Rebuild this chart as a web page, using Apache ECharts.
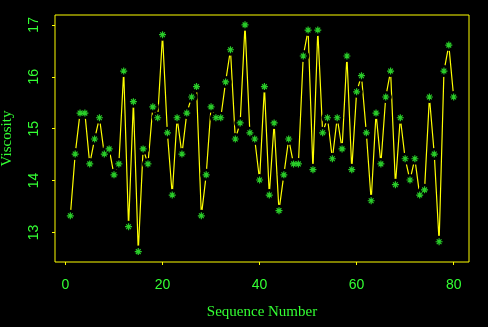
<!DOCTYPE html>
<html>
<head>
<meta charset="utf-8">
<script src="https://cdn.jsdelivr.net/npm/echarts@6/dist/echarts.min.js"></script>
<style>
html,body{margin:0;padding:0;background:#000;}
#chart{width:488px;height:327px;}
</style>
</head>
<body>
<div id="chart"></div>
<script>
var sequence = [];
for (var k = 1; k <= 80; k++) sequence.push(k);
var viscosity = [
  13.32, 14.51, 15.30, 15.30, 14.32, 14.80, 15.21, 14.51, 14.61, 14.11,
  14.32, 16.11, 13.11, 15.52, 12.63, 14.61, 14.32, 15.42, 15.21, 16.81,
  14.92, 13.72, 15.21, 14.51, 15.30, 15.61, 15.81, 13.32, 14.11, 15.42,
  15.21, 15.21, 15.90, 16.52, 14.80, 15.11, 17.00, 14.92, 14.80, 14.01,
  15.81, 13.72, 15.11, 13.42, 14.11, 14.80, 14.32, 14.32, 16.40, 16.90,
  14.21, 16.90, 14.92, 15.21, 14.42, 15.21, 14.61, 16.40, 14.21, 15.71,
  16.02, 14.92, 13.61, 15.30, 14.32, 15.61, 16.11, 13.92, 15.21, 14.42,
  14.01, 14.42, 13.72, 13.82, 15.61, 14.51, 12.82, 16.11, 16.61, 15.61
];
var xTicks = [0, 20, 40, 60, 80];
var yTicks = [13, 14, 15, 16, 17];

var GREEN = '#33ff33';
var YELLOW = '#ffff00';
var pts = sequence.map(function (s, i) { return [s, viscosity[i]]; });
var star = 'path://M5,0L5,10M0,5L10,5M1.6,1.6L8.4,8.4M8.4,1.6L1.6,8.4';

var chart = echarts.init(document.getElementById('chart'), null, {renderer: 'canvas'});
chart.setOption({
  backgroundColor: '#000',
  animation: false,
  grid: {left: 55, top: 15, right: 19, bottom: 65, outerBoundsMode: 'none', containLabel: false,
         show: true, borderColor: YELLOW, borderWidth: 1, backgroundColor: 'transparent'},
  xAxis: {
    type: 'value', min: -2.16, max: 83.16,
    name: 'Sequence Number', nameLocation: 'middle', nameGap: 43,
    nameTextStyle: {color: GREEN, fontFamily: 'Liberation Serif', fontSize: 15},
    axisLine: {show: false, onZero: false},
    splitLine: {show: false},
    axisTick: {show: true, inside: false, length: 3, customValues: xTicks, lineStyle: {color: YELLOW}},
    axisLabel: {customValues: xTicks, color: GREEN, fontFamily: 'Liberation Sans', fontSize: 14, margin: 16}
  },
  yAxis: {
    type: 'value', min: 12.43, max: 17.19,
    name: 'Viscosity', nameLocation: 'middle', nameGap: 40,
    nameTextStyle: {color: GREEN, fontFamily: 'Liberation Serif', fontSize: 15},
    axisLine: {show: false, onZero: false},
    splitLine: {show: false},
    axisTick: {show: true, inside: false, length: 3, customValues: yTicks, lineStyle: {color: YELLOW}},
    axisLabel: {customValues: yTicks, rotate: 90, color: GREEN, fontFamily: 'Liberation Sans', fontSize: 14, margin: 14}
  },
  series: [
    {type: 'line', data: pts, symbol: 'none', lineStyle: {color: YELLOW, width: 1.2}, z: 1},
    {type: 'scatter', data: pts, symbol: 'circle', symbolSize: 12, itemStyle: {color: '#000', opacity: 1}, z: 2, silent: true},
    {type: 'scatter', data: pts, symbol: star, symbolSize: 7,
     itemStyle: {color: 'transparent', borderColor: GREEN, borderWidth: 1.2}, z: 3}
  ]
});
</script>
</body>
</html>
